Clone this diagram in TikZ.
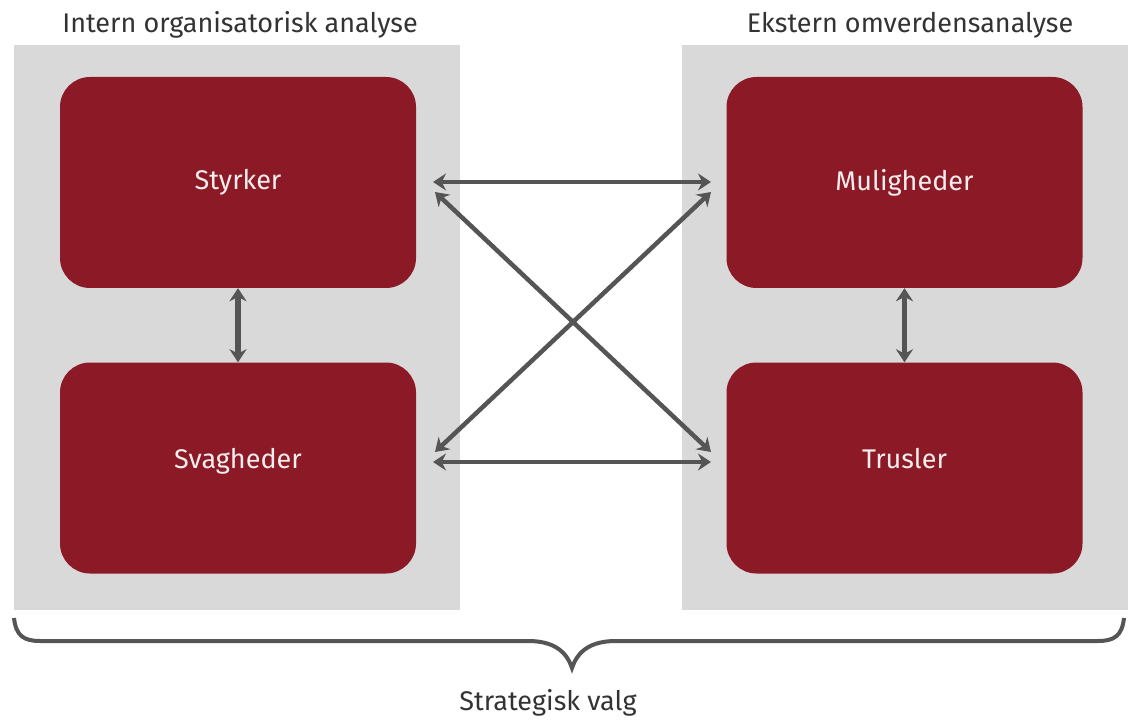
\documentclass[tikz,border=0pt]{standalone}
\usepackage{fontspec}
\setmainfont{Fira Sans}
\usetikzlibrary{arrows.meta}
\definecolor{boxred}{HTML}{8C1A26}
\definecolor{panelgrey}{HTML}{D9D9D9}
\definecolor{arrowgrey}{HTML}{555555}
\tikzset{
  panel/.style={fill=panelgrey, draw=none},
  swotbox/.style={fill=boxred, draw=none, rounded corners=30pt, minimum width=356pt, minimum height=211pt, text=white!92!boxred, font=\fontsize{27}{32}\selectfont},
  title/.style={font=\fontsize{27}{32}\selectfont, text=black!80},
  link/.style={draw=arrowgrey, line width=4.5pt, {Stealth[length=13pt,width=17pt]}-{Stealth[length=13pt,width=17pt]}},
  vlink/.style={link, line width=5.5pt},
  brace/.style={draw=arrowgrey, line width=4pt}
}
\begin{document}
\begin{tikzpicture}[x=1pt,y=-1pt]
\useasboundingbox (0,0) rectangle (1128,722);
\fill[white] (0,0) rectangle (1128,722);
% panels
\fill[panel] (14,45) rectangle (460,610);
\fill[panel] (682,45) rectangle (1128,610);
\node[title] (t1) at (240,25) {Intern organisatorisk analyse};
\node[title] (t2) at (910,25) {Ekstern omverdensanalyse};
% boxes
\node[swotbox] (S) at (238,182.5) {\raisebox{-3pt}{Styrker}};
\node[swotbox] (W) at (238,468) {\raisebox{20pt}{Svagheder}};
\node[swotbox] (O) at (904.5,182.5) {\raisebox{-3pt}{Muligheder}};
\node[swotbox] (T) at (904.5,468) {\raisebox{20pt}{Trusler}};
% coordinates for arrow ends
\coordinate (s1) at (433,182);
\coordinate (o1) at (711,182);
\coordinate (w1) at (433,462);
\coordinate (t1e) at (711,462);
\coordinate (s2) at (435,192);
\coordinate (t2e) at (711,452);
\coordinate (w2) at (435,452);
\coordinate (o2) at (711,192);
\draw[link] (s1) -- (o1);
\draw[link] (w1) -- (t1e);
\draw[link] (s2) -- (t2e);
\draw[link] (w2) -- (o2);
\draw[vlink] (S.south) -- (W.north);
\draw[vlink] (O.south) -- (T.north);
% brace
\coordinate (bl) at (14,618);
\coordinate (br) at (1124,618);
\coordinate (bt) at (572,668);
\draw[brace] (bl) .. controls (16,636) and (24,641) .. (40,641)
  -- (528,641) .. controls (552,641) and (566,650) .. (bt)
  .. controls (578,650) and (592,641) .. (616,641)
  -- (1098,641) .. controls (1114,641) and (1122,636) .. (br);
\node[title] (sv) at (548,703) {Strategisk valg};
\end{tikzpicture}
\end{document}
